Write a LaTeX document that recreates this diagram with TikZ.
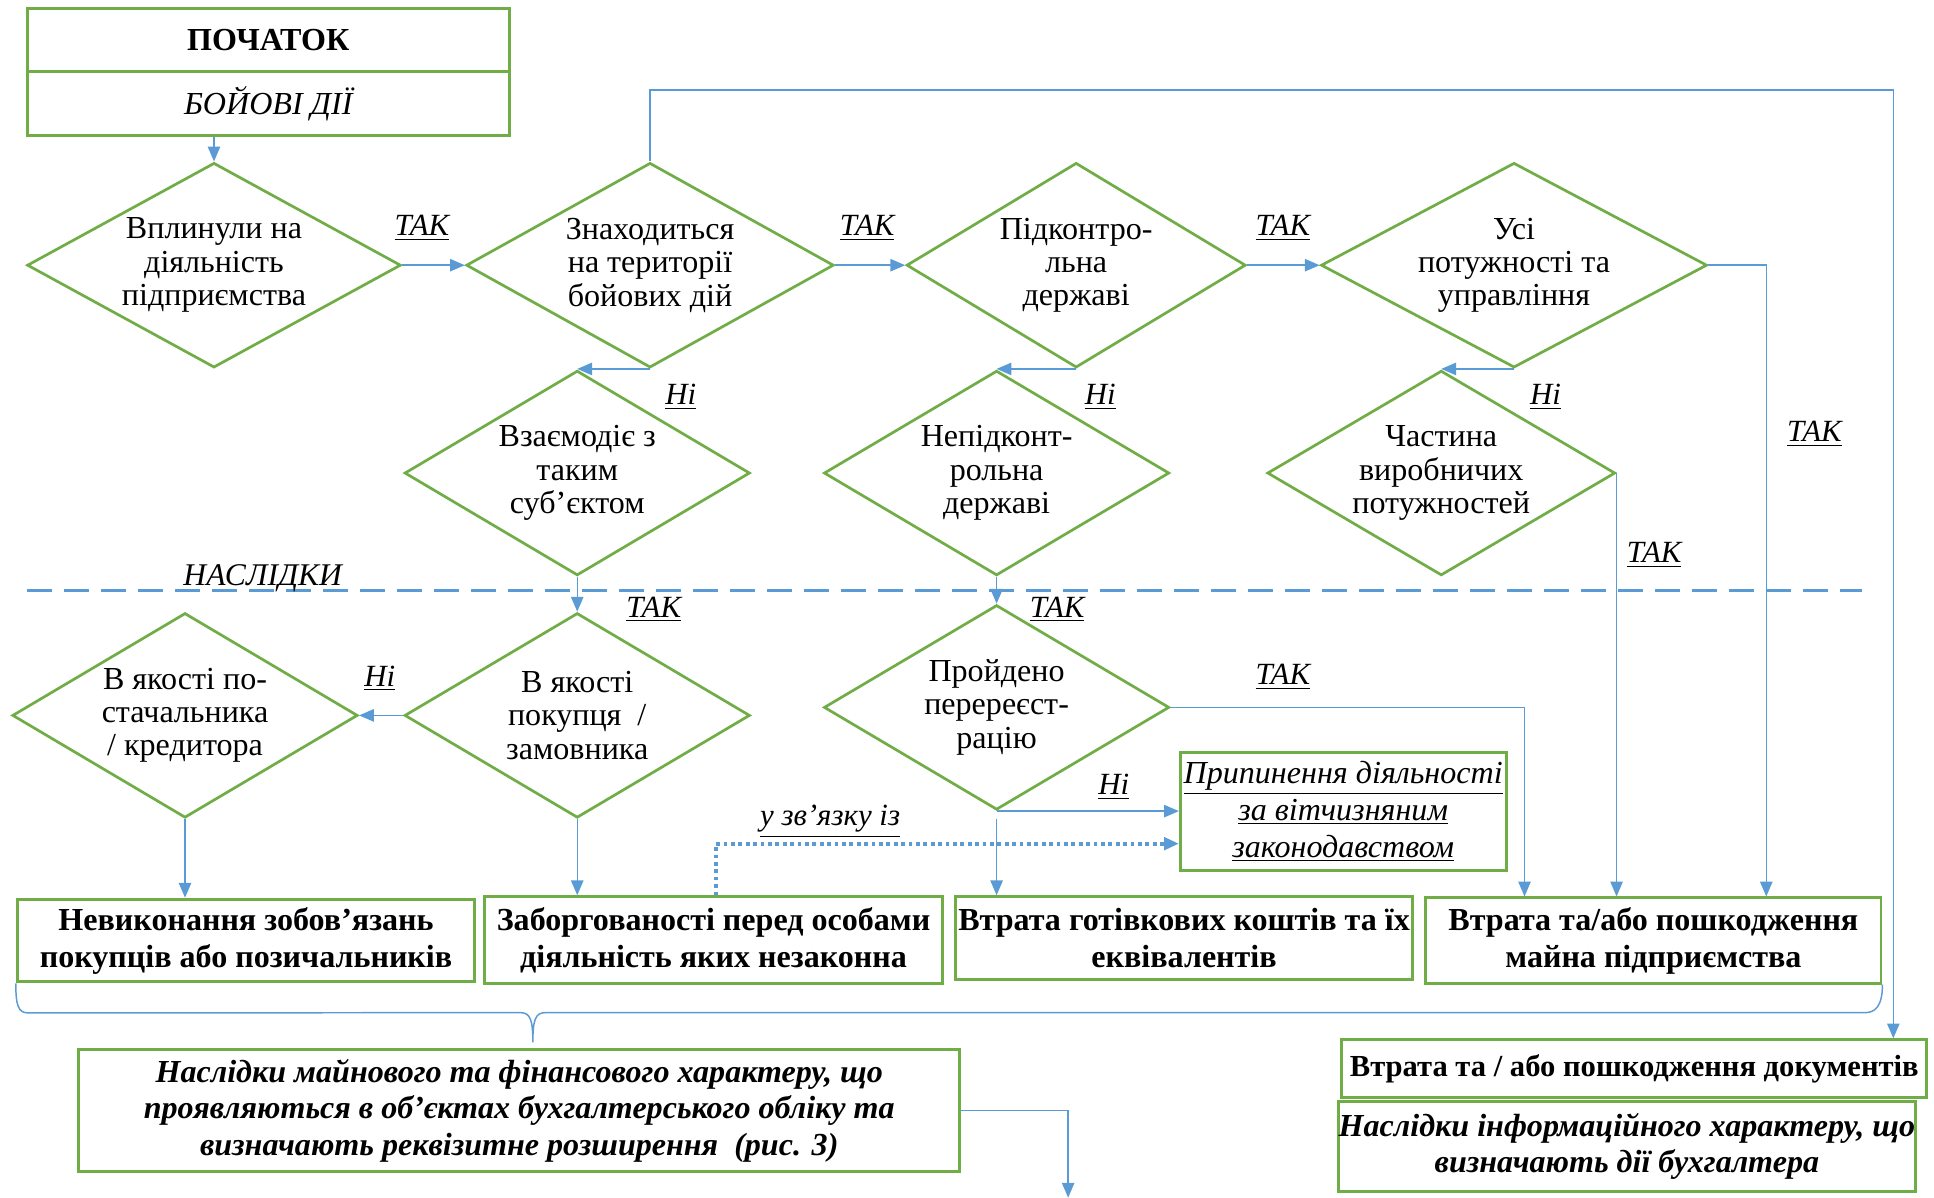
\documentclass[tikz,border=0pt]{standalone}
\usepackage{fontspec}
\setmainfont{Liberation Serif}
\usetikzlibrary{arrows.meta,shapes.geometric}
\definecolor{grn}{HTML}{70AD47}
\definecolor{blu}{HTML}{5B9BD5}

\begin{document}
\begin{tikzpicture}[x=0.5pt,y=-0.5pt,
  dec/.style={diamond,draw=grn,line width=1.1pt,inner sep=0pt,aspect=1.8,
    minimum width=140pt,minimum height=83pt,align=center,
    font=\fontsize{13}{13.5}\selectfont},
  box/.style={rectangle,draw=grn,line width=1.2pt,inner sep=0pt,align=center,
    font=\fontsize{13}{15}\selectfont\bfseries},
  ln/.style={blu,line width=0.6pt},
  arr/.style={ln,-{Triangle[length=6pt,width=5pt]}},
  dotarr/.style={arr,line width=1.5pt,dash pattern=on 1.5pt off 1.5pt},
  lbl/.style={font=\fontsize{12.5}{14}\selectfont\itshape}]
\useasboundingbox (0,0) rectangle (1568,971);

\node[box,minimum width=195.5pt,minimum height=25.5pt] (st1) at (217.5,32.5) {ПОЧАТОК};
\node[box,font=\fontsize{13}{15}\selectfont\itshape,minimum width=195.5pt,minimum height=26pt] (st2) at (217.5,84) {БОЙОВІ ДІЇ};

\node[dec,minimum width=151.5pt] (d1) at (173.5,215) {Вплинули на\\діяльність\\підприємства};
\node[dec,minimum width=149pt] (d2) at (527,215) {Знаходиться\\на території\\бойових дій};
\node[dec,minimum width=137.5pt] (d3) at (872.5,215) {Підконтро-\\льна\\державі};
\node[dec,minimum width=156.5pt] (d4) at (1227.5,215) {Усі\\потужності та\\управління};
\node[dec] (d5) at (468,383.5) {Взаємодіє з\\таким\\суб’єктом};
\node[dec] (d6) at (808,383.5) {Непідконт-\\рольна\\державі};
\node[dec] (d7) at (1168.5,383.5) {Частина\\виробничих\\потужностей};
\node[dec] (d8) at (150,580) {В якості по-\\стачальника\\/ кредитора};
\node[dec] (d9) at (468,580) {В якості\\покупця \ /\\замовника};
\node[dec] (d10) at (808,573.5) {Пройдено\\перереєст-\\рацію};

\node[box,minimum width=185.5pt,minimum height=33.5pt] (b1) at (199.5,762.5) {Невиконання зобов’язань\\покупців або позичальників};
\node[box,minimum width=185.5pt,minimum height=35pt] (b2) at (578.5,762) {Заборгованості перед особами\\діяльність яких незаконна};
\node[box,minimum width=185pt,minimum height=33.5pt] (b3) at (960,760.5) {Втрата готівкових коштів та їх\\еквівалентів};
\node[box,minimum width=184.5pt,minimum height=34.5pt] (b4) at (1340.5,762.5) {Втрата та/або пошкодження\\майна підприємства};
\node[box,font=\fontsize{13}{15}\selectfont\itshape,minimum width=132pt,minimum height=48pt] (pp) at (1089,658)
  {\underline{Припинення діяльності}\\\underline{за вітчизняним}\\\underline{законодавством}};
\node[box,font=\fontsize{13}{14.75}\selectfont\bfseries\itshape,minimum width=357pt,minimum height=49.5pt] (bl) at (421,900.5)
  {Наслідки майнового та фінансового характеру, що\\проявляються в об’єктах бухгалтерського обліку та\\визначають реквізитне розширення \ (рис. 3)};
\node[box,font=\fontsize{12.4}{15}\selectfont\bfseries,minimum width=237pt,minimum height=23.5pt] (docs) at (1325,866.5) {Втрата та / або пошкодження документів};
\node[box,font=\fontsize{13}{14.75}\selectfont\bfseries\itshape,minimum width=233pt,minimum height=36.5pt] (info) at (1319,929.5)
  {Наслідки інформаційного характеру, що\\визначають дії бухгалтера};

\draw[blu,line width=1.3pt,dash pattern=on 10pt off 5pt] (22,479) -- (1510,479);
\node[lbl,font=\fontsize{12.8}{14}\selectfont\itshape] (nsl) at (213,469) {НАСЛІДКИ};
\foreach \p/\t [count=\i] in {(342,185)/ТАК,(703,185)/ТАК,(1040,185)/ТАК,(552,322)/Ні,(892,322)/Ні,
  (1253,322)/Ні,(1471,352)/ТАК,(1341,450)/ТАК,(530,494)/ТАК,(857,494)/ТАК,(308,550)/Ні,
  (1040,549)/ТАК,(903,638)/Ні,(673,666)/у зв’язку із}
  \node[lbl] (l\i) at \p {\underline{\t}};

\draw[arr] (d1.north |- st2.south) -- (d1.north);
\draw[arr] (d1.east) -- (d2.west);
\draw[arr] (d2.east) -- (d3.west);
\draw[arr] (d3.east) -- (d4.west);
\draw[arr] (d2.south) -- (d5.north |- d2.south);
\draw[arr] (d3.south) -- (d6.north |- d3.south);
\draw[arr] (d4.south) -- (d7.north |- d4.south);
\coordinate (tr) at (1535,73);
\draw[arr] (d2.north) |- (tr) -- (tr |- docs.north);
\coordinate (k4) at (1432,0);
\draw[arr] (d4.east) -| (k4 |- b4.north);
\draw[arr] (d7.east) -- (d7.east |- b4.north);
\coordinate (k10) at (1236,0);
\draw[arr] (d10.east) -| (k10 |- b4.north);
\draw[arr] (d5.south) -- (d9.north);
\draw[arr] (d6.south) -- (d10.north);
\draw[arr] (d9.west) -- (d8.east);
\draw[arr] (d8.south) -- (d8.south |- b1.north);
\draw[arr] (d9.south) -- (d9.south |- b2.north);
\draw[arr] (d10.south) -- (d10.south -| pp.west);
\draw[arr] ([yshift=-3pt]d10.south) -- (d10.south |- b3.north);
\draw[dotarr] ([xshift=1pt]b2.north) |- ([yshift=-13pt]pp.west);
\coordinate (dn) at (866,971);
\draw[arr] (bl.east) -| (dn);

% brace
\draw[ln] (b1.south west) .. controls +(0,18) and +(-8,0) .. ++(10,24) -- (422,821)
  .. controls +(8,0) and +(0,-18) .. (432,845) .. controls +(0,-18) and +(-8,0) .. (442,821)
  -- (1512,821) .. controls +(8,0) and +(0,18) .. (b4.south east);
\end{tikzpicture}
\end{document}
